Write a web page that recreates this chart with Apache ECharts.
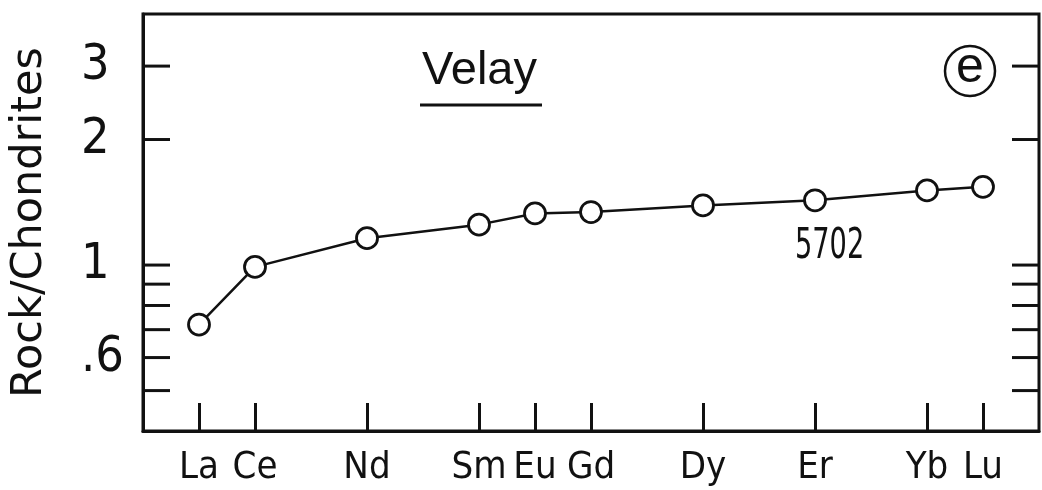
<!DOCTYPE html>
<html>
<head>
<meta charset="utf-8">
<script src="https://cdn.jsdelivr.net/npm/echarts@6/dist/echarts.min.js"></script>
<style>
  html, body { margin: 0; padding: 0; background: #fff; }
  #chart { width: 1042px; height: 490px; }
</style>
</head>
<body>
<div id="chart"></div>
<script>
// atomic number slots 56..72, only REE analysed get a label/tick
var slots = ['', 'La', 'Ce', '', 'Nd', '', 'Sm', 'Eu', 'Gd', '', 'Dy', '', 'Er', '', 'Yb', 'Lu', ''];
var elements = ['La', 'Ce', 'Nd', 'Sm', 'Eu', 'Gd', 'Dy', 'Er', 'Yb', 'Lu'];
var values = [0.72, 0.99, 1.16, 1.25, 1.33, 1.34, 1.39, 1.43, 1.51, 1.54];
var yTicks = [0.5, 0.6, 0.7, 0.8, 0.9, 1, 2, 3];
var yLabels = [0.6, 1, 2, 3];

var ink = '#111';
var narrow = "'Liberation Sans Narrow', 'DejaVu Sans Condensed', sans-serif";
var regular = "'Liberation Sans', Arial, sans-serif";

var chartDom = document.getElementById('chart');
var myChart = echarts.init(chartDom, null, { renderer: 'canvas' });

var seriesData = elements.map(function (el, i) { return [el, values[i]]; });

function showSlot(index, value) {
  return slots[index] !== '';
}

// y ticks on both sides of the frame, placed with the log axis
function renderTicks(params, api) {
  var cs = params.coordSys;
  var p = api.coord([0, api.value(1)]);
  var len = 27;
  return {
    type: 'group',
    children: [
      { type: 'line', shape: { x1: cs.x, y1: p[1], x2: cs.x + len, y2: p[1] }, style: { stroke: ink, lineWidth: 3 } },
      { type: 'line', shape: { x1: cs.x + cs.width - len, y1: p[1], x2: cs.x + cs.width, y2: p[1] }, style: { stroke: ink, lineWidth: 3 } }
    ]
  };
}

var option = {
  animation: false,
  backgroundColor: '#fff',
  grid: {
    left: 143, right: 3, top: 14, height: 417,
    show: true, borderColor: ink, borderWidth: 3, backgroundColor: 'transparent'
  },
  xAxis: {
    type: 'category',
    data: slots,
    boundaryGap: false,
    axisLine: { lineStyle: { color: ink, width: 3 } },
    axisTick: { inside: true, length: 28, interval: showSlot, lineStyle: { color: ink, width: 3 } },
    axisLabel: { interval: showSlot, margin: 18, color: ink, fontSize: 38, fontFamily: narrow },
    splitLine: { show: false }
  },
  yAxis: {
    type: 'log',
    min: 0.4, max: 4,
    position: 'left',
    name: 'Rock/Chondrites',
    nameLocation: 'middle',
    nameRotate: 90,
    nameGap: 92,
    nameTextStyle: { color: ink, fontSize: 43, fontFamily: "'DejaVu Sans', sans-serif" },
    axisLine: { show: true, lineStyle: { color: ink, width: 3 } },
    axisTick: { show: false },
    axisLabel: {
      customValues: yLabels, align: 'left', margin: 62,
      color: ink, fontSize: 50, fontFamily: narrow,
      formatter: function (v) { return v < 1 ? String(v).replace(/^0/, '') : String(v); }
    },
    splitLine: { show: false },
    minorTick: { show: false }
  },
  series: [{
    type: 'line',
    data: seriesData,
    symbol: 'circle',
    symbolSize: 21,
    z: 3,
    lineStyle: { color: ink, width: 2.5 },
    itemStyle: { color: '#fff', borderColor: ink, borderWidth: 2.8 }
  }, {
    type: 'custom',
    data: yTicks.map(function (v) { return [0, v]; }),
    renderItem: renderTicks,
    silent: true,
    clip: false,
    z: 4
  }],
  graphic: [
    { type: 'text', left: 422, top: 48, style: { text: 'Velay', fill: ink, font: '47px ' + regular } },
    { type: 'line', shape: { x1: 420, y1: 105, x2: 542, y2: 105 }, style: { stroke: ink, lineWidth: 3 } },
    { type: 'circle', shape: { cx: 970, cy: 71, r: 25 }, style: { fill: 'none', stroke: ink, lineWidth: 2.5 } },
    { type: 'text', x: 970, y: 68, style: { text: 'e', fill: ink, font: '50px ' + regular, align: 'center', verticalAlign: 'middle' } },
    { type: 'text', x: 795, y: 226, scaleX: 0.72, style: { text: '5702', fill: ink, font: '42px ' + narrow } }
  ]
};

myChart.setOption(option);
</script>
</body>
</html>
